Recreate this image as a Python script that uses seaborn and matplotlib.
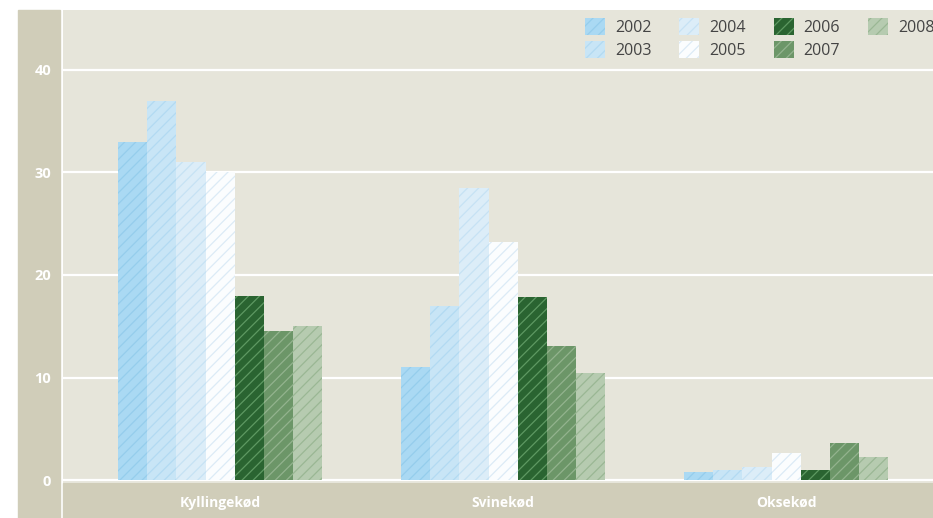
import pandas as pd
import matplotlib
matplotlib.use('Agg')
import matplotlib.pyplot as plt
import seaborn as sns
from matplotlib.patches import Rectangle

# Data
categories = ['Kyllingekød', 'Svinekød', 'Oksekød']
years = ['2002', '2003', '2004', '2005', '2006', '2007', '2008']
kylling = [33, 37, 31, 30, 18, 14.5, 15]
svine = [11, 17, 28.5, 23.2, 17.9, 13.1, 10.4]
okse = [0.8, 1.0, 1.3, 2.6, 1.0, 3.6, 2.2]

# Colours
bar_colors = ['#aad9f3', '#c8e5f6', '#dcedf8', '#fbfdfe', '#2a6431', '#6c9668', '#b6cbb0']
hatch_colors = ['#95cdec', '#b2daf2', '#c6e2f4', '#dcebf6', '#5e9962', '#93b38e', '#9ab794']
plot_bg = '#e6e5da'
strip_bg = '#d0cdb9'

rows = []
for cat, vals in zip(categories, [kylling, svine, okse]):
    for yr, v in zip(years, vals):
        rows.append({'kind': cat, 'year': yr, 'value': v})
df = pd.DataFrame(rows)

sns.set_theme(style='white', rc={'axes.facecolor': plot_bg, 'hatch.linewidth': 0.9})
plt.rcParams['font.family'] = ['Open Sans', 'DejaVu Sans']

fig = plt.figure(figsize=(9.33, 5.18), dpi=100)
fig.patch.set_facecolor('white')
ax = fig.add_axes([63 / 933, 35 / 518, 870 / 933, 473 / 518])

# side strips behind the axes
fig.add_artist(Rectangle((18 / 933, 0), 42 / 933, 508 / 518, transform=fig.transFigure,
                         color=strip_bg, zorder=-1))
fig.add_artist(Rectangle((63 / 933, 0), 870 / 933, 35 / 518, transform=fig.transFigure,
                         color=strip_bg, zorder=-1))

sns.barplot(data=df, x='kind', y='value', hue='year', hue_order=years,
            palette=dict(zip(years, bar_colors)), saturation=1, width=0.72, gap=0,
            linewidth=0, legend=False, ax=ax)

for cont, hc in zip(ax.containers, hatch_colors):
    for bar in cont:
        bar.set_hatch('///')
        bar.set_edgecolor(hc)
        bar.set_linewidth(0)

ax.set_xlim(-0.555, 2.519)
ax.set_ylim(-0.29, 45.85)
ax.set_yticks([0, 10, 20, 30, 40])
ax.grid(axis='y', color='white', linewidth=1.6)
ax.grid(axis='x', visible=False)
ax.set_axisbelow(True)
for s in ax.spines.values():
    s.set_visible(False)
ax.set_xlabel('')
ax.set_ylabel('')

ax.tick_params(axis='y', length=0, pad=8.5, labelcolor='white', labelsize=10.5)
ax.tick_params(axis='x', length=0, pad=9, labelcolor='white', labelsize=10)
for lab in ax.get_yticklabels() + ax.get_xticklabels():
    lab.set_fontweight('bold')

leg = ax.legend(handles=[c[0] for c in ax.containers], labels=years, ncol=4,
                loc='upper left', bbox_to_anchor=(585 / 933, 1 - 18 / 518),
                bbox_transform=fig.transFigure, frameon=False, fontsize=11.5,
                handlelength=1.25, handleheight=1.25, handletextpad=0.62,
                columnspacing=1.75, labelspacing=0.35, borderpad=0, borderaxespad=0)
for t in leg.get_texts():
    t.set_color('#444444')

fig.savefig('out.png', dpi=100, facecolor='white')
